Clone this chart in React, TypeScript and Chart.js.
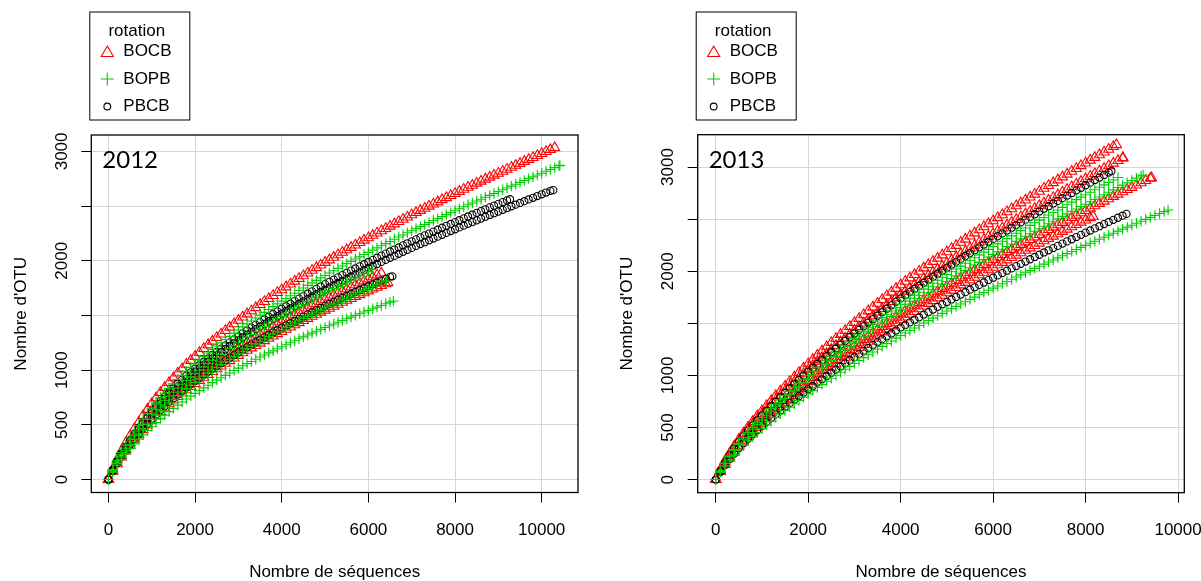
import React, { useEffect, useRef } from 'react';
import { Chart, registerables } from 'chart.js';

Chart.register(...registerables);

// ---------- data ----------
// rarefaction grid: first point at 1 sequence, then every X_STEP sequences, last point at the sample depth
const X_STEP = 100;

const ROTATIONS = ['BOCB', 'BOPB', 'PBCB'];
const COLORS = ['#FF0000', '#00CD00', '#000000'];
const SHAPES = ['triangle', 'cross', 'circle'];
const SIZES = [5.8, 5.2, 3.6];
const ORDERS = [2, 0, 1];

const X_TICKS = [0, 2000, 4000, 6000, 8000, 10000];
const X_TICK_LABELS = ['0', '2000', '4000', '6000', '8000', '10000'];
const Y_TICKS = [0, 500, 1000, 1500, 2000, 2500, 3000];
const Y_TICK_LABELS = ['0', '500', '1000', '', '2000', '', '3000'];
const X_TITLE = 'Nombre de séquences';
const Y_TITLE = "Nombre d'OTU";
const LEGEND_TITLE = 'rotation';

// ----- 2012 -----
const BOCB_2012_A = [1, 98, 185, 263, 335, 402, 465, 526, 585, 641, 695, 746, 795, 842, 887, 930, 973, 1013, 1053, 1089, 1125, 1161, 1197, 1231, 1265, 1298, 1330, 1362, 1393, 1424, 1455, 1485, 1514, 1543, 1571, 1599, 1627, 1655, 1682, 1709, 1735, 1761, 1787, 1813, 1838, 1863, 1888, 1913, 1937, 1961, 1985, 2008, 2031, 2054, 2077, 2100, 2122, 2144, 2166, 2188, 2210, 2232, 2253, 2274, 2295, 2316, 2337, 2358, 2379, 2400, 2420, 2440, 2460, 2480, 2499, 2519, 2538, 2558, 2577, 2596, 2615, 2634, 2653, 2672, 2690, 2709, 2727, 2746, 2764, 2782, 2800, 2818, 2836, 2854, 2872, 2890, 2908, 2926, 2944, 2962, 2980, 2998, 3016, 3034];
const BOCB_2012_B = [1, 76, 144, 205, 261, 313, 363, 410, 456, 499, 542, 581, 620, 656, 692, 726, 759, 790, 821, 850, 878, 906, 934, 961, 987, 1012, 1037, 1062, 1087, 1111, 1135, 1158, 1181, 1203, 1225, 1247, 1269, 1291, 1312, 1333, 1353, 1374, 1394, 1414, 1434, 1454, 1473, 1492, 1511, 1530, 1548, 1566, 1584, 1602, 1620, 1638, 1655, 1673, 1690, 1707, 1724, 1741, 1757, 1774, 1790, 1800];
const BOCB_2012_C = [1, 81, 154, 218, 278, 333, 386, 437, 486, 532, 577, 619, 660, 698, 736, 772, 808, 841, 874, 904, 934, 964, 994, 1022, 1050, 1077, 1104, 1130, 1156, 1182, 1208, 1233, 1257, 1281, 1304, 1327, 1350, 1373, 1396, 1418, 1440, 1462, 1483, 1505, 1526, 1547, 1567, 1588, 1608, 1628, 1648, 1667, 1686, 1705, 1724, 1743, 1761, 1780, 1798, 1816, 1834, 1852, 1870, 1887];
const BOPB_2012_A = [1, 92, 174, 248, 315, 378, 437, 495, 550, 603, 653, 701, 747, 791, 834, 875, 915, 953, 990, 1024, 1058, 1092, 1125, 1157, 1189, 1220, 1250, 1280, 1309, 1339, 1368, 1396, 1423, 1450, 1477, 1503, 1529, 1555, 1581, 1606, 1631, 1656, 1680, 1704, 1728, 1752, 1775, 1798, 1821, 1844, 1866, 1888, 1909, 1931, 1952, 1974, 1995, 2016, 2036, 2057, 2077, 2098, 2118, 2138, 2157, 2177, 2197, 2217, 2236, 2256, 2275, 2294, 2312, 2331, 2349, 2368, 2386, 2404, 2422, 2440, 2458, 2476, 2494, 2512, 2529, 2546, 2563, 2581, 2598, 2615, 2632, 2649, 2666, 2683, 2700, 2717, 2734, 2751, 2767, 2784, 2801, 2818, 2835, 2852, 2869, 2872];
const BOPB_2012_B = [1, 77, 146, 208, 265, 317, 367, 415, 462, 506, 549, 589, 628, 665, 701, 735, 769, 801, 832, 861, 889, 918, 946, 973, 999, 1025, 1051, 1076, 1100, 1125, 1149, 1173, 1196, 1219, 1241, 1263, 1285, 1307, 1329, 1350, 1371, 1392, 1412, 1432, 1452, 1472, 1492, 1511, 1530, 1549, 1568, 1586, 1604, 1623, 1641, 1659, 1676, 1694, 1711, 1729, 1746, 1763, 1780, 1797, 1813, 1818];
const BOPB_2012_C = [1, 68, 130, 185, 235, 282, 326, 369, 410, 449, 487, 522, 557, 589, 621, 651, 681, 709, 737, 763, 788, 813, 838, 862, 886, 909, 931, 953, 975, 997, 1019, 1040, 1060, 1080, 1100, 1120, 1139, 1158, 1177, 1196, 1215, 1233, 1251, 1269, 1287, 1305, 1322, 1339, 1356, 1373, 1390, 1406, 1422, 1438, 1454, 1470, 1485, 1501, 1516, 1532, 1547, 1562, 1577, 1592, 1607, 1622, 1632];
const BOPB_2012_D = [1, 84, 159, 226, 288, 346, 400, 453, 503, 551, 598, 642, 684, 724, 763, 800, 837, 872, 906, 937, 968, 999, 1029, 1059, 1088, 1116, 1144, 1171, 1198, 1225, 1251, 1277, 1302, 1327, 1351, 1375, 1399, 1423, 1447, 1470, 1492, 1515, 1537, 1559, 1581, 1603, 1624, 1645, 1666, 1687, 1707, 1727, 1747, 1767, 1786, 1806, 1825, 1844, 1863, 1882, 1901, 1920];
const PBCB_2012_A = [1, 86, 162, 230, 293, 352, 407, 461, 512, 561, 608, 653, 696, 736, 776, 814, 851, 886, 921, 953, 984, 1016, 1047, 1077, 1107, 1136, 1164, 1192, 1219, 1246, 1273, 1299, 1325, 1350, 1375, 1400, 1424, 1448, 1472, 1495, 1518, 1541, 1564, 1586, 1608, 1630, 1652, 1674, 1695, 1716, 1737, 1757, 1777, 1797, 1817, 1837, 1857, 1876, 1895, 1915, 1934, 1953, 1971, 1990, 2008, 2027, 2045, 2064, 2082, 2100, 2118, 2136, 2153, 2170, 2187, 2204, 2221, 2238, 2255, 2272, 2288, 2305, 2321, 2338, 2354, 2370, 2386, 2403, 2419, 2435, 2450, 2466, 2482, 2498, 2513, 2529, 2545, 2561, 2576, 2592, 2608, 2624, 2639, 2646];
const PBCB_2012_B = [1, 88, 167, 238, 302, 363, 419, 474, 527, 578, 626, 672, 716, 757, 798, 837, 876, 912, 948, 981, 1013, 1045, 1077, 1108, 1139, 1168, 1197, 1226, 1254, 1282, 1310, 1337, 1363, 1389, 1414, 1439, 1464, 1489, 1514, 1538, 1562, 1585, 1608, 1631, 1654, 1677, 1699, 1721, 1743, 1765, 1787, 1808, 1828, 1849, 1869, 1890, 1910, 1930, 1949, 1969, 1989, 2009, 2028, 2047, 2066, 2085, 2103, 2122, 2141, 2160, 2178, 2196, 2214, 2232, 2249, 2267, 2284, 2302, 2319, 2337, 2354, 2371, 2388, 2405, 2421, 2438, 2454, 2471, 2488, 2504, 2520, 2536, 2552, 2563];
const PBCB_2012_C = [1, 78, 148, 210, 268, 321, 372, 421, 468, 512, 556, 596, 636, 673, 710, 744, 778, 810, 842, 871, 900, 929, 958, 985, 1012, 1038, 1064, 1089, 1114, 1139, 1164, 1188, 1211, 1234, 1257, 1280, 1302, 1324, 1346, 1367, 1388, 1409, 1430, 1450, 1470, 1490, 1510, 1530, 1550, 1569, 1588, 1607, 1625, 1644, 1662, 1680, 1698, 1716, 1733, 1751, 1768, 1785, 1802, 1819, 1836, 1853, 1858];

// ----- 2013 -----
const BOCB_2013_A = [1, 94, 178, 253, 322, 387, 447, 504, 558, 611, 661, 710, 758, 805, 851, 896, 941, 984, 1027, 1070, 1112, 1153, 1194, 1235, 1275, 1315, 1354, 1393, 1431, 1469, 1507, 1545, 1582, 1619, 1655, 1692, 1728, 1764, 1799, 1835, 1870, 1903, 1935, 1967, 1999, 2031, 2062, 2094, 2125, 2156, 2186, 2217, 2247, 2277, 2307, 2337, 2367, 2397, 2426, 2455, 2484, 2513, 2541, 2570, 2599, 2627, 2655, 2683, 2711, 2739, 2767, 2795, 2822, 2849, 2876, 2904, 2931, 2958, 2985, 3012, 3038, 3065, 3091, 3117, 3143, 3170, 3196, 3214];
const BOCB_2013_B = [1, 89, 169, 241, 306, 368, 425, 479, 530, 580, 628, 675, 720, 764, 808, 851, 894, 935, 976, 1016, 1056, 1095, 1134, 1173, 1211, 1249, 1286, 1323, 1359, 1396, 1432, 1468, 1503, 1538, 1572, 1607, 1642, 1676, 1709, 1743, 1777, 1808, 1838, 1869, 1899, 1929, 1959, 1989, 2019, 2048, 2077, 2106, 2135, 2164, 2192, 2221, 2249, 2277, 2305, 2333, 2360, 2387, 2414, 2442, 2469, 2496, 2522, 2549, 2575, 2602, 2629, 2655, 2681, 2707, 2732, 2758, 2784, 2810, 2836, 2861, 2886, 2911, 2936, 2961, 2986, 3011, 3036, 3061, 3086, 3089];
const BOCB_2013_C = [1, 80, 151, 215, 274, 329, 380, 428, 474, 519, 562, 604, 644, 684, 723, 762, 800, 837, 873, 909, 945, 980, 1015, 1050, 1084, 1118, 1151, 1184, 1216, 1249, 1281, 1313, 1345, 1376, 1407, 1438, 1469, 1499, 1529, 1560, 1590, 1618, 1645, 1672, 1699, 1726, 1753, 1780, 1806, 1832, 1858, 1884, 1910, 1936, 1961, 1987, 2012, 2037, 2062, 2087, 2111, 2136, 2160, 2185, 2209, 2233, 2257, 2281, 2304, 2328, 2352, 2376, 2399, 2422, 2445, 2468, 2491, 2514, 2537, 2560, 2582, 2605, 2627, 2650, 2672, 2695, 2717, 2739, 2761, 2783, 2804, 2826, 2848, 2870, 2891, 2896];
const BOCB_2013_D = [1, 77, 146, 208, 264, 317, 367, 414, 458, 501, 542, 583, 622, 660, 698, 735, 772, 807, 842, 877, 912, 946, 979, 1013, 1046, 1078, 1110, 1142, 1173, 1205, 1236, 1267, 1297, 1327, 1357, 1387, 1417, 1446, 1475, 1504, 1533, 1560, 1587, 1613, 1639, 1665, 1691, 1717, 1743, 1768, 1793, 1818, 1843, 1868, 1892, 1917, 1941, 1965, 1989, 2013, 2037, 2061, 2084, 2108, 2131, 2154, 2177, 2200, 2223, 2246, 2269, 2292, 2314, 2336, 2358, 2381, 2403, 2426, 2448, 2470, 2491, 2513, 2526];
const BOPB_2013_A = [1, 82, 155, 221, 280, 337, 389, 438, 485, 531, 575, 618, 659, 700, 740, 780, 819, 856, 893, 930, 967, 1003, 1039, 1074, 1109, 1144, 1178, 1212, 1245, 1278, 1311, 1344, 1376, 1408, 1440, 1472, 1503, 1534, 1565, 1596, 1627, 1655, 1683, 1711, 1739, 1767, 1794, 1822, 1849, 1876, 1902, 1929, 1955, 1981, 2007, 2033, 2059, 2085, 2111, 2136, 2161, 2186, 2211, 2236, 2261, 2286, 2310, 2335, 2359, 2383, 2407, 2431, 2455, 2479, 2502, 2526, 2550, 2574, 2597, 2620, 2643, 2666, 2689, 2712, 2734, 2758, 2781, 2804, 2826, 2848, 2870, 2893, 2915, 2924];
const BOPB_2013_B = [1, 70, 132, 187, 238, 286, 331, 373, 413, 452, 489, 525, 561, 596, 630, 663, 696, 728, 760, 792, 823, 854, 884, 914, 944, 973, 1002, 1031, 1059, 1087, 1115, 1143, 1171, 1198, 1225, 1252, 1279, 1305, 1331, 1358, 1384, 1408, 1432, 1456, 1479, 1503, 1526, 1550, 1573, 1596, 1618, 1641, 1663, 1685, 1707, 1730, 1752, 1774, 1795, 1817, 1838, 1859, 1880, 1902, 1923, 1944, 1965, 1986, 2006, 2027, 2048, 2068, 2088, 2108, 2128, 2149, 2169, 2189, 2209, 2229, 2248, 2268, 2287, 2307, 2326, 2346, 2365, 2385, 2404, 2423, 2441, 2460, 2479, 2498, 2517, 2536, 2554, 2572, 2588];
const BOPB_2013_C = [1, 85, 160, 228, 290, 348, 402, 453, 502, 550, 595, 640, 682, 724, 766, 807, 847, 886, 924, 963, 1001, 1038, 1075, 1112, 1148, 1184, 1219, 1254, 1288, 1322, 1356, 1390, 1424, 1457, 1490, 1523, 1555, 1587, 1619, 1651, 1683, 1713, 1742, 1771, 1799, 1828, 1856, 1885, 1913, 1940, 1967, 1995, 2022, 2049, 2076, 2103, 2130, 2157, 2183, 2210, 2236, 2262, 2287, 2313, 2339, 2365, 2390, 2415, 2440, 2465, 2490, 2515, 2540, 2564, 2588, 2613, 2638, 2663, 2687, 2711, 2734, 2758, 2782, 2806, 2829, 2853, 2876, 2900];
const PBCB_2013_A = [1, 87, 166, 236, 299, 360, 416, 469, 519, 568, 615, 661, 705, 748, 791, 833, 875, 915, 955, 995, 1034, 1072, 1110, 1148, 1186, 1223, 1259, 1295, 1331, 1367, 1402, 1437, 1471, 1505, 1539, 1573, 1607, 1640, 1673, 1706, 1739, 1770, 1800, 1830, 1859, 1889, 1918, 1947, 1976, 2005, 2033, 2062, 2090, 2118, 2146, 2174, 2201, 2229, 2256, 2283, 2310, 2337, 2363, 2390, 2417, 2443, 2469, 2495, 2521, 2547, 2573, 2599, 2624, 2650, 2675, 2701, 2726, 2751, 2776, 2801, 2825, 2850, 2875, 2899, 2923, 2947, 2962];
const PBCB_2013_B = [1, 73, 139, 197, 251, 301, 349, 393, 435, 476, 516, 554, 591, 628, 664, 699, 734, 768, 801, 834, 867, 899, 931, 963, 995, 1026, 1056, 1086, 1116, 1146, 1175, 1205, 1234, 1263, 1291, 1320, 1348, 1376, 1403, 1431, 1459, 1484, 1509, 1534, 1559, 1584, 1608, 1633, 1658, 1682, 1705, 1729, 1753, 1776, 1799, 1823, 1846, 1869, 1892, 1915, 1938, 1960, 1982, 2005, 2027, 2049, 2071, 2093, 2115, 2137, 2158, 2180, 2201, 2222, 2243, 2265, 2286, 2307, 2328, 2349, 2370, 2391, 2411, 2432, 2452, 2473, 2493, 2513, 2533, 2550];

const CURVES_2012 = [
  { rotation: 'BOCB', depth: 10300, otu: BOCB_2012_A },
  { rotation: 'BOCB', depth: 6450, otu: BOCB_2012_B },
  { rotation: 'BOCB', depth: 6300, otu: BOCB_2012_C },
  { rotation: 'BOPB', depth: 10420, otu: BOPB_2012_A },
  { rotation: 'BOPB', depth: 6420, otu: BOPB_2012_B },
  { rotation: 'BOPB', depth: 6576, otu: BOPB_2012_C },
  { rotation: 'BOPB', depth: 6100, otu: BOPB_2012_D },
  { rotation: 'PBCB', depth: 10268, otu: PBCB_2012_A },
  { rotation: 'PBCB', depth: 9269, otu: PBCB_2012_B },
  { rotation: 'PBCB', depth: 6553, otu: PBCB_2012_C },
];

const CURVES_2013 = [
  { rotation: 'BOCB', depth: 8668, otu: BOCB_2013_A },
  { rotation: 'BOCB', depth: 8811, otu: BOCB_2013_B },
  { rotation: 'BOCB', depth: 9425, otu: BOCB_2013_C },
  { rotation: 'BOCB', depth: 8163, otu: BOCB_2013_D },
  { rotation: 'BOPB', depth: 9244, otu: BOPB_2013_A },
  { rotation: 'BOPB', depth: 9784, otu: BOPB_2013_B },
  { rotation: 'BOPB', depth: 8700, otu: BOPB_2013_C },
  { rotation: 'PBCB', depth: 8560, otu: PBCB_2013_A },
  { rotation: 'PBCB', depth: 8884, otu: PBCB_2013_B },
];

// ---------- helpers ----------
const SANS = '"Liberation Sans", Arial, Helvetica, sans-serif';

function toPoints(depth: number, otu: number[]) {
  const last = otu.length - 1;
  return otu.map((y, i) => ({ x: i === 0 ? 1 : i === last ? depth : i * X_STEP, y }));
}

function buildDatasets(curves: { rotation: string; depth: number; otu: number[] }[]) {
  return curves.map((c) => {
    const k = ROTATIONS.indexOf(c.rotation);
    return {
      label: c.rotation,
      data: toPoints(c.depth, c.otu),
      showLine: false,
      pointStyle: SHAPES[k],
      pointRadius: SIZES[k],
      pointHoverRadius: SIZES[k],
      pointBorderColor: COLORS[k],
      pointBackgroundColor: 'rgba(0,0,0,0)',
      pointBorderWidth: 1.1,
      borderColor: COLORS[k],
      backgroundColor: 'rgba(0,0,0,0)',
      order: ORDERS[k],
    };
  });
}

function drawMarker(ctx: CanvasRenderingContext2D, k: number, cx: number, cy: number) {
  ctx.save();
  ctx.strokeStyle = COLORS[k];
  ctx.lineWidth = 1.1;
  ctx.beginPath();
  if (k === 0) {
    const r = 7;
    ctx.moveTo(cx, cy - r);
    ctx.lineTo(cx + r * 0.866, cy + r / 2);
    ctx.lineTo(cx - r * 0.866, cy + r / 2);
    ctx.closePath();
  } else if (k === 1) {
    const r = 6.5;
    ctx.moveTo(cx - r, cy);
    ctx.lineTo(cx + r, cy);
    ctx.moveTo(cx, cy - r);
    ctx.lineTo(cx, cy + r);
  } else {
    ctx.arc(cx, cy, 3.4, 0, Math.PI * 2);
  }
  ctx.stroke();
  ctx.restore();
}

function decorPlugin(yearLabel: string) {
  return {
    id: 'decor' + yearLabel,
    afterDraw(chart: any) {
      const { ctx, chartArea: a, scales } = chart;
      const xs = scales.x;
      const ys = scales.y;
      ctx.save();
      // plot box
      ctx.strokeStyle = '#000';
      ctx.lineWidth = 1.3;
      ctx.strokeRect(a.left, a.top, a.right - a.left, a.bottom - a.top);

      // tick labels
      ctx.fillStyle = '#000';
      ctx.font = `17px ${SANS}`;
      ctx.textAlign = 'center';
      ctx.textBaseline = 'middle';
      X_TICKS.forEach((v, i) => {
        ctx.fillText(X_TICK_LABELS[i], xs.getPixelForValue(v), 530);
      });
      Y_TICKS.forEach((v, i) => {
        const lab = Y_TICK_LABELS[i];
        if (!lab) return;
        ctx.save();
        ctx.translate(a.left - 29, ys.getPixelForValue(v));
        ctx.rotate(-Math.PI / 2);
        ctx.fillText(lab, 0, 0);
        ctx.restore();
      });

      // axis titles
      ctx.fillText(X_TITLE, (a.left + a.right) / 2, 572.5);
      ctx.save();
      ctx.translate(a.left - 70, (a.top + a.bottom) / 2);
      ctx.rotate(-Math.PI / 2);
      ctx.fillText(Y_TITLE, 0, 0);
      ctx.restore();

      // year label
      ctx.font = '24px Lato, "Open Sans", sans-serif';
      ctx.textAlign = 'left';
      ctx.textBaseline = 'alphabetic';
      ctx.fillText(yearLabel, a.left + 11, 167.5);

      // legend
      const lx = a.left - 1.5;
      const ly = 12;
      ctx.strokeStyle = '#000';
      ctx.lineWidth = 1;
      ctx.strokeRect(lx, ly, 100, 108);
      ctx.font = `17px ${SANS}`;
      ctx.textAlign = 'center';
      ctx.textBaseline = 'middle';
      ctx.fillText(LEGEND_TITLE, lx + 47, 31);
      ctx.textAlign = 'left';
      ROTATIONS.forEach((r, k) => {
        const cy = 51.5 + k * 27.5;
        drawMarker(ctx, k, lx + 17.5, cy + (k === 0 ? 1.5 : 0));
        ctx.fillStyle = '#000';
        ctx.fillText(r, lx + 33.5, cy);
      });
      ctx.restore();
    },
  };
}

function makeConfig(
  curves: any[],
  year: string,
  xr: [number, number],
  yr: [number, number],
  box: { left: number; right: number; top: number; bottom: number; w: number; h: number }
): any {
  return {
    type: 'scatter',
    data: { datasets: buildDatasets(curves) },
    options: {
      animation: false,
      responsive: false,
      devicePixelRatio: 1,
      events: [],
      layout: { padding: { top: box.top, right: box.w - box.right, left: 0, bottom: 0 } },
      plugins: { legend: { display: false }, tooltip: { enabled: false } },
      scales: {
        x: {
          type: 'linear',
          min: xr[0],
          max: xr[1],
          afterBuildTicks: (s: any) => {
            s.ticks = X_TICKS.map((v) => ({ value: v }));
          },
          afterFit: (s: any) => {
            s.height = box.h - box.bottom;
          },
          ticks: { display: false },
          grid: { color: '#d6d6d6', lineWidth: 1, drawTicks: true, tickLength: 10, tickColor: '#000', tickWidth: 1 },
          border: { display: false },
        },
        y: {
          type: 'linear',
          min: yr[0],
          max: yr[1],
          afterBuildTicks: (s: any) => {
            s.ticks = Y_TICKS.map((v) => ({ value: v }));
          },
          afterFit: (s: any) => {
            s.width = box.left;
          },
          ticks: { display: false },
          grid: { color: '#d6d6d6', lineWidth: 1, drawTicks: true, tickLength: 10, tickColor: '#000', tickWidth: 1 },
          border: { display: false },
        },
      },
    },
    plugins: [decorPlugin(year)],
  };
}

export default function App() {
  const leftRef = useRef<HTMLCanvasElement | null>(null);
  const rightRef = useRef<HTMLCanvasElement | null>(null);

  useEffect(() => {
    const c1 = new Chart(
      leftRef.current as HTMLCanvasElement,
      makeConfig(CURVES_2012, '2012', [-395, 10838], [-118, 3150], {
        left: 91.3,
        right: 578,
        top: 135,
        bottom: 492.5,
        w: 600,
        h: 581,
      })
    );
    const c2 = new Chart(
      rightRef.current as HTMLCanvasElement,
      makeConfig(CURVES_2013, '2013', [-389, 10135], [-125, 3310], {
        left: 97.7,
        right: 584.3,
        top: 134.7,
        bottom: 492.7,
        w: 601,
        h: 581,
      })
    );
    return () => {
      c1.destroy();
      c2.destroy();
    };
  }, []);

  return (
    <div style={{ position: 'absolute', left: 0, top: 0, width: 1201, height: 581, background: '#fff' }}>
      <canvas ref={leftRef} width={600} height={581} style={{ position: 'absolute', left: 0, top: 0 }} />
      <canvas ref={rightRef} width={601} height={581} style={{ position: 'absolute', left: 600, top: 0 }} />
    </div>
  );
}
